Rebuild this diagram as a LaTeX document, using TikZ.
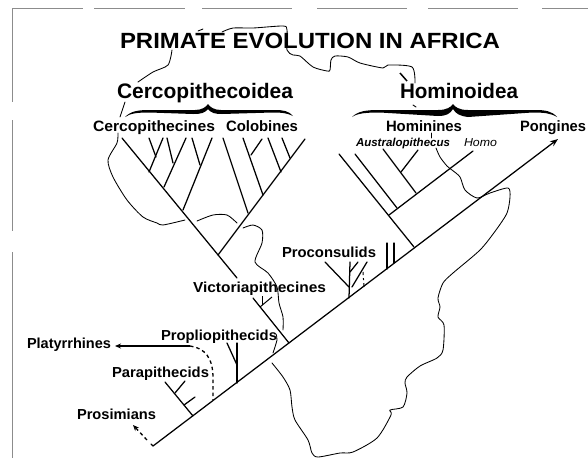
\documentclass[tikz,border=0pt]{standalone}
\usepackage{fontspec}
\setmainfont{Liberation Sans}
\usetikzlibrary{arrows.meta}
\newcommand{\lab}[7][lbl]{\node[#1] (#2) at (#3,#4) {\resizebox{#5pt}{\height}{\fontsize{#6}{#6}\selectfont #7}};}
\tikzset{
  lbl/.style={anchor=base west,inner sep=0pt,outer sep=0pt,font=\bfseries},
  ilbl/.style={anchor=base west,inner sep=0pt,outer sep=0pt,font=\itshape},
  iblbl/.style={anchor=base west,inner sep=0pt,outer sep=0pt,font=\bfseries\itshape},
  coast/.style={line width=0.85pt,line join=round,line cap=round},
  branch/.style={line width=1.25pt,line cap=round},
  frame/.style={line width=0.9pt,black!45},
  dashbranch/.style={line width=1.3pt,dash pattern=on 3.5pt off 3pt},
  tip/.style={-{Stealth[length=6pt,width=5pt]}}
}
\begin{document}
\begin{tikzpicture}[x=1pt,y=-1pt]
\useasboundingbox (0,0) rectangle (588,467);
% scan frame
\foreach \a/\b in {12/83,94/185,202/292,317/407,428/518,542/588}
  \draw[frame] (\a,8) -- (\b,8);
\foreach \a/\b in {8/102,120/231,252/458}
  \draw[frame] (12,\a) -- (12,\b);
% Africa outline
\draw[coast] plot[smooth,tension=0.45] coordinates {(222,32)(233,28)(253,28)(283,26)(287,30)(287,50)(293,55)(300,56)(313,67)(327,71)(330,70)(331,60)(335,56)(348,57)(360,63)(383,68)(388,65)(412,67)(415,83)};
\draw[line width=1.5pt] (400,73) -- (407,81);
\draw[coast] (413,105) -- (416,107);
\draw[coast] (431,133) -- (431,138);
\draw[coast] plot[smooth,tension=0.45] coordinates {(436,148)(440,157)(447,166)(452,170)(460,177)(465,190)(477,198)(490,193)(508,188)(510,197)(507,213)(496,230)(480,250)(453,273)(443,283)(438,298)(440,307)(438,317)(444,325)(443,350)(437,358)(420,366)(407,377)(405,383)(407,393)(403,407)(390,410)(391,415)(377,438)(353,452)(340,453)(318,457)(312,453)(308,440)(295,420)(292,407)(290,390)(283,377)(272,363)};
\draw[coast] plot[smooth,tension=0.45] coordinates {(273,353)(277,340)(276,334)};
\draw[coast] plot[smooth,tension=0.45] coordinates {(283,330)(283,317)(279,303)(277,287)(268,273)(255,262)(262,243)(262,230)(253,225)(243,228)};
\draw[coast] plot[smooth,tension=0.45] coordinates {(237,223)(227,215)(213,215)(197,221)};
\draw[coast] plot[smooth,tension=0.45] coordinates {(185,220)(163,225)(157,223)(143,217)(127,200)(113,177)(108,160)(117,143)(118,133)};
\draw[coast] (120,117) -- (125,102);
\draw[coast] plot[smooth,tension=0.45] coordinates {(138,82)(153,72)(168,65)(172,50)};
\draw[coast] (198,31) -- (203,29);
% text
\lab{title}{120}{48}{380}{22}{PRIMATE EVOLUTION IN AFRICA}
\lab{cerco}{117}{98}{176}{21}{Cercopithecoidea}
\lab{homi}{400}{98}{118}{21}{Hominoidea}
\lab{cercs}{93}{131}{122}{15}{Cercopithecines}
\lab{colo}{226}{131}{72}{15}{Colobines}
\lab{homs}{386}{131}{76}{15}{Hominines}
\lab{pong}{520}{131}{66}{15}{Pongines}
\lab[iblbl]{austr}{356}{146}{94}{11.5}{Australopithecus}
\lab[ilbl]{homo}{464}{146}{33}{11.5}{Homo}
\lab{procon}{282}{257}{94}{14.5}{Proconsulids}
\lab{vict}{193}{292}{133}{14.5}{Victoriapithecines}
\lab{propl}{161}{340}{116}{14.5}{Propliopithecids}
\lab{platy}{27}{348}{84}{14.5}{Platyrrhines}
\lab{parap}{112}{377}{97}{14.5}{Parapithecids}
\lab{prosi}{77}{419}{79}{14.5}{Prosimians}
% braces
\fill (125,117) .. controls (131,111) and (138,110) .. (150,110) -- (195,110) .. controls (202,110) and (206,107) .. (208,104) .. controls (210,107) and (214,110) .. (221,110) -- (275,110) .. controls (283,110) and (289,111) .. (293,116) .. controls (287,113) and (282,112.5) .. (272,112.5) -- (222,114) .. controls (215,114) and (211,113) .. (208,109) .. controls (205,113) and (201,114) .. (193,114) -- (150,112.5) .. controls (138,112.5) and (131,113) .. (125,117) -- cycle;
\fill (352,117) .. controls (358,111) and (366,110) .. (380,110) -- (438,110) .. controls (447,110) and (451,107) .. (453,104) .. controls (455,107) and (459,110) .. (468,110) -- (535,110) .. controls (545,110) and (552,111) .. (557,117) .. controls (550,113) and (544,112.5) .. (532,112.5) -- (468,117) .. controls (460,116) and (456,114) .. (453,109) .. controls (450,114) and (446,116) .. (438,116) -- (380,112.5) .. controls (367,112.5) and (358,113) .. (352,117) -- cycle;
% trunk
\coordinate (root) at (153,446);
\coordinate (apex) at (558,139);
\coordinate (pj) at (193,416);
\coordinate (dj) at (213,400);
\coordinate (qj) at (237,383);
\coordinate (cj) at (289,343);
\coordinate (rj) at (349,298);
\coordinate (aj) at (364,287);
\coordinate (bj) at (387,269);
\coordinate (ej) at (394,263);
\coordinate (hj) at (414,247);
\draw[branch,-{Stealth[length=8pt,width=6pt]}] (root) -- (apex);
\draw[branch] (root) -- ++(-2,-2);
% prosimians and platyrrhines
\coordinate (pa) at (147,440);
\coordinate (pb) at (133,425);
\draw[dashbranch,tip] (pa) -- (pb);
\coordinate (pc) at (190,346);
\coordinate (pd) at (115,346);
\draw[line width=1.1pt,tip] (pc) -- (pd);
\draw[dashbranch] (pc) .. controls (205,348) and (213,358) .. (213,378) -- (dj);
% parapithecids
\coordinate (p1) at (165,382);
\coordinate (p2) at (175,393);
\coordinate (p3) at (185,381);
\coordinate (p4) at (184,405);
\coordinate (p5) at (195,397);
\draw[branch] (pj) -- (p1);
\draw[branch] (p2) -- (p3);
\draw[branch] (p4) -- (p5);
% propliopithecids
\coordinate (q1) at (237,343);
\coordinate (q2) at (237,365);
\coordinate (q3) at (227,343);
\draw[branch] (qj) -- (q1);
\draw[branch] (q2) -- (q3);
% main Old World monkey stem
\coordinate (m1) at (122,138);
\coordinate (m2) at (237,278);
\coordinate (m3) at (253,298);
\draw[branch] (cj) -- (m3);
\draw[branch] (m2) -- (m1);
% victoriapithecines
\coordinate (v1) at (260,307);
\coordinate (v2) at (272,297);
\coordinate (v3) at (262,305);
\coordinate (v4) at (262,296);
\draw[line width=1pt] (v1) -- (v2);
\draw[line width=1pt] (v3) -- (v4);
% cercopithecines
\foreach \a/\b/\c/\d in {183/210/212/138,200/165/192/138,164/187/186/138,173/163/167/138,149/172/163/138,156/157/149/138}
  \draw[branch] (\a,\b) -- (\c,\d);
% colobines
\coordinate (s1) at (218,255);
\coordinate (s2) at (305,139);
\draw[branch] (s1) -- (s2);
\foreach \a/\b/\c/\d in {248/213/223/138,263/195/243/138,251/155/262/139,281/172/268/138,290/158/282/138}
  \draw[branch] (\a,\b) -- (\c,\d);
% proconsulids
\coordinate (r1) at (350,262);
\coordinate (r2) at (349,287);
\coordinate (r3) at (325,262);
\coordinate (r4) at (350,272);
\coordinate (r5) at (358,262);
\coordinate (r6) at (352,287);
\coordinate (r7) at (367,262);
\draw[branch] (rj) -- (r1);
\draw[branch] (r2) -- (r3);
\draw[branch] (r4) -- (r5);
\draw[branch] (r6) -- (r7);
\coordinate (a1) at (363,272);
\draw[line width=1pt,dash pattern=on 4pt off 3pt on 2pt off 3pt] (aj) -- (a1);
\coordinate (b1) at (387,243);
\coordinate (e1) at (394,243);
\draw[branch] (bj) -- (b1);
\draw[branch] (ej) -- (e1);
% hominoids
\coordinate (h1) at (339,154);
\coordinate (h2) at (389,215);
\coordinate (h3) at (473,151);
\draw[branch] (hj) -- (h1);
\draw[branch] (h2) -- (h3);
\foreach \a/\b/\c/\d in {397/208/355/154,416/193/383/149,401/172/418/150}
  \draw[branch] (\a,\b) -- (\c,\d);
\end{tikzpicture}
\end{document}
